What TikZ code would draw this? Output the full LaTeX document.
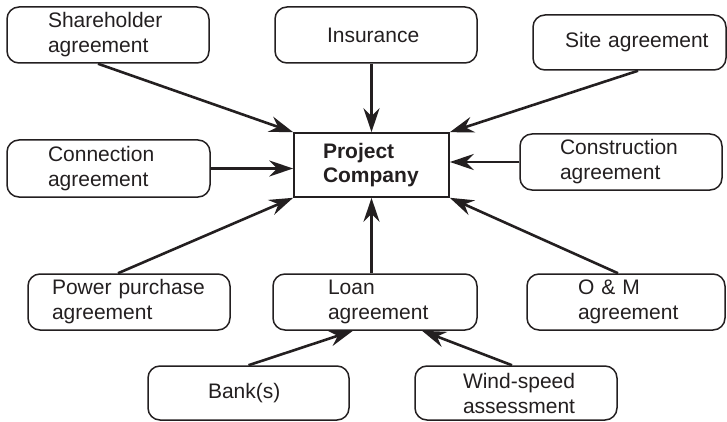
\documentclass[tikz,border=0pt]{standalone}
\usepackage{fontspec}
\setmainfont{Liberation Sans}
\usetikzlibrary{arrows.meta}
\definecolor{ink}{RGB}{35,31,32}
\newcommand\twol[3]{\hspace*{#1pt}#2\\\hspace*{#1pt}#3}
\newcommand\onel[2]{\hspace*{#1pt}#2}
\begin{document}
\begin{tikzpicture}[x=1pt,y=-1pt,
  box/.style={draw=ink, line width=1.5pt, rounded corners=12pt, inner xsep=0pt, inner ysep=0pt,
    align=left, font=\fontsize{21}{25}\selectfont, text=ink},
  bw/.style={text width=#1pt},
  bh/.style={minimum height=#1pt},
  pcbox/.style={draw=ink, line width=1.6pt, inner xsep=0pt, inner ysep=0pt,
    align=left, font=\fontsize{21}{24}\selectfont\bfseries, text=ink},
  arr/.style={draw=ink, line width=2.6pt, -{Stealth[length=24pt,width=16pt,inset=8pt]}}]
\useasboundingbox (0,0) rectangle (727,422);

\node[box, bw=202, bh=56] (sh) at (108,35) {\twol{41}{Shareholder}{agreement}};
\node[box, bw=202, bh=56] (ins) at (376,35) {\onel{52}{Insurance}};
\node[box, bw=193, bh=55] (site) at (629.5,42.5) {\onel{32}{Site agreement}};
\node[box, bw=203, bh=57] (conn) at (108.5,168.5) {\twol{41}{Connection}{agreement}};
\node[pcbox, bw=155, bh=64] (pc) at (371.5,165) {\twol{29}{Project}{Company}};
\node[box, bw=202, bh=56] (cons) at (621,162) {\twol{40}{Construction}{agreement}};
\node[box, bw=202, bh=56] (pow) at (129,302) {\twol{24}{Power purchase}{agreement}};
\node[box, bw=204, bh=56] (loan) at (375,302) {\twol{55}{Loan}{agreement}};
\node[box, bw=198, bh=56] (om) at (626,302) {\twol{51}{O \& M}{agreement}};
\node[box, bw=201, bh=54] (bank) at (248.5,393) {\onel{60}{Bank(s)}};
\node[box, bw=202, bh=54] (wind) at (516,393) {\twol{48}{Wind-speed}{assessment}};

\draw[arr] ([xshift=-10pt]sh.south) -- (pc.north west);
\draw[arr] (pc.north |- ins.south) -- (pc.north);
\draw[arr] ([xshift=8.5pt]site.south) -- (pc.north east);
\draw[arr] (conn.east) -- (pc.west |- conn.east);
\draw[arr] (cons.west) -- (pc.east |- cons.west);
\draw[arr] ([xshift=-11pt]pow.north) -- (pc.south west);
\draw[arr] (pc.south |- loan.north) -- (pc.south);
\draw[arr] ([xshift=-8pt]om.north) -- (pc.south east);
\draw[arr] (bank.north) -- ([xshift=-22pt]loan.south);
\draw[arr] ([xshift=-4pt]wind.north) -- ([xshift=47pt]loan.south);
\end{tikzpicture}
\end{document}
